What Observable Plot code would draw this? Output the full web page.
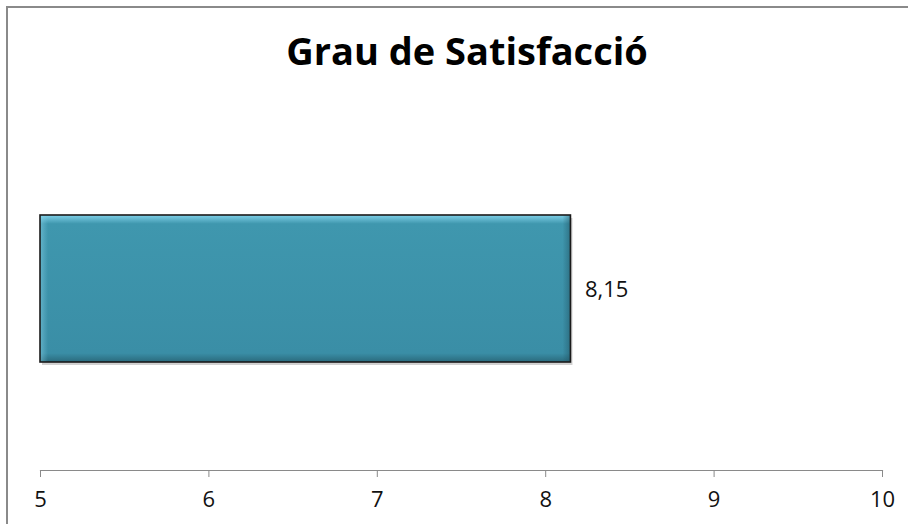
<!DOCTYPE html>
<html>
<head>
<meta charset="utf-8">
<script src="https://cdn.jsdelivr.net/npm/d3@7"></script>
<script src="https://cdn.jsdelivr.net/npm/@observablehq/plot@0.6"></script>
<style>
  html, body { margin: 0; padding: 0; background: #fff; }
  #wrap { position: relative; width: 908px; height: 524px; overflow: hidden; }
  #border { position: absolute; left: 6px; top: 6px; width: 920px; height: 540px;
            border-top: 2px solid #8a8a8a; border-left: 2px solid #8a8a8a; box-sizing: border-box; }
  #title { height: 100px; margin: 0; font-family: "Open Sans", sans-serif; font-weight: 700;
           font-size: 38px; text-align: center; line-height: 38px; box-sizing: border-box; }
  #title span { display: inline-block; padding-top: 31px; padding-left: 26px; }
  #chart svg { display: block; }
</style>
</head>
<body>
<svg width="0" height="0" style="position:absolute">
  <defs>
    <linearGradient id="bevelV" x1="0" y1="0" x2="0" y2="1">
      <stop offset="0" stop-color="#7fd0e8"/>
      <stop offset="0.06" stop-color="#3f97ae"/>
      <stop offset="0.94" stop-color="#3a8ea6"/>
      <stop offset="1" stop-color="#2a6a7c"/>
    </linearGradient>
    <linearGradient id="bevelH" x1="0" y1="0" x2="1" y2="0">
      <stop offset="0" stop-color="#8fd8ee" stop-opacity="0.45"/>
      <stop offset="0.015" stop-color="#8fd8ee" stop-opacity="0"/>
      <stop offset="0.985" stop-color="#1f5060" stop-opacity="0"/>
      <stop offset="1" stop-color="#1f5060" stop-opacity="0.5"/>
    </linearGradient>
  </defs>
</svg>
<div id="wrap">
  <div id="border"></div>
  <div id="title"><span>Grau de Satisfacció</span></div>
  <div id="chart"></div>
</div>
<script>
const categories = ["Grau de Satisfacció"];
const values = [8.15];
const valueLabels = ["8,15"];
const tickValues = [5, 6, 7, 8, 9, 10];

const data = categories.map((c, i) => ({cat: c, value: values[i], label: valueLabels[i]}));

const chart = Plot.plot({
  width: 908,
  height: 424,
  marginLeft: 40,
  marginRight: 26,
  marginTop: 8,
  marginBottom: 54,
  style: {fontFamily: "Open Sans, sans-serif", fontSize: "22px", color: "#111", background: "transparent"},
  x: {domain: [5, 10], ticks: tickValues, label: null},
  y: {domain: categories, padding: 0.42, axis: null},
  marks: [
    Plot.frame({anchor: "bottom", stroke: "#8a8a8a", strokeWidth: 1.2}),
    Plot.axisX({ticks: tickValues, tickSize: 7, tickPadding: 14, stroke: "#8a8a8a", fill: "#111", fontSize: 22, label: null, tickFormat: d => String(d)}),
    Plot.barX(data, {x1: 5, x2: "value", y: "cat", dx: 2, dy: 3, fill: "#000", fillOpacity: 0.18}),
    Plot.barX(data, {x1: 5, x2: "value", y: "cat", fill: "url(#bevelV)"}),
    Plot.barX(data, {x1: 5, x2: "value", y: "cat", fill: "url(#bevelH)", stroke: "#1b1b1b", strokeWidth: 1.6}),
    Plot.text(data, {x: "value", y: "cat", text: "label", dx: 14, dy: 1, textAnchor: "start", fontSize: 22, fill: "#111"})
  ]
});
document.getElementById("chart").appendChild(chart);
</script>
</body>
</html>
